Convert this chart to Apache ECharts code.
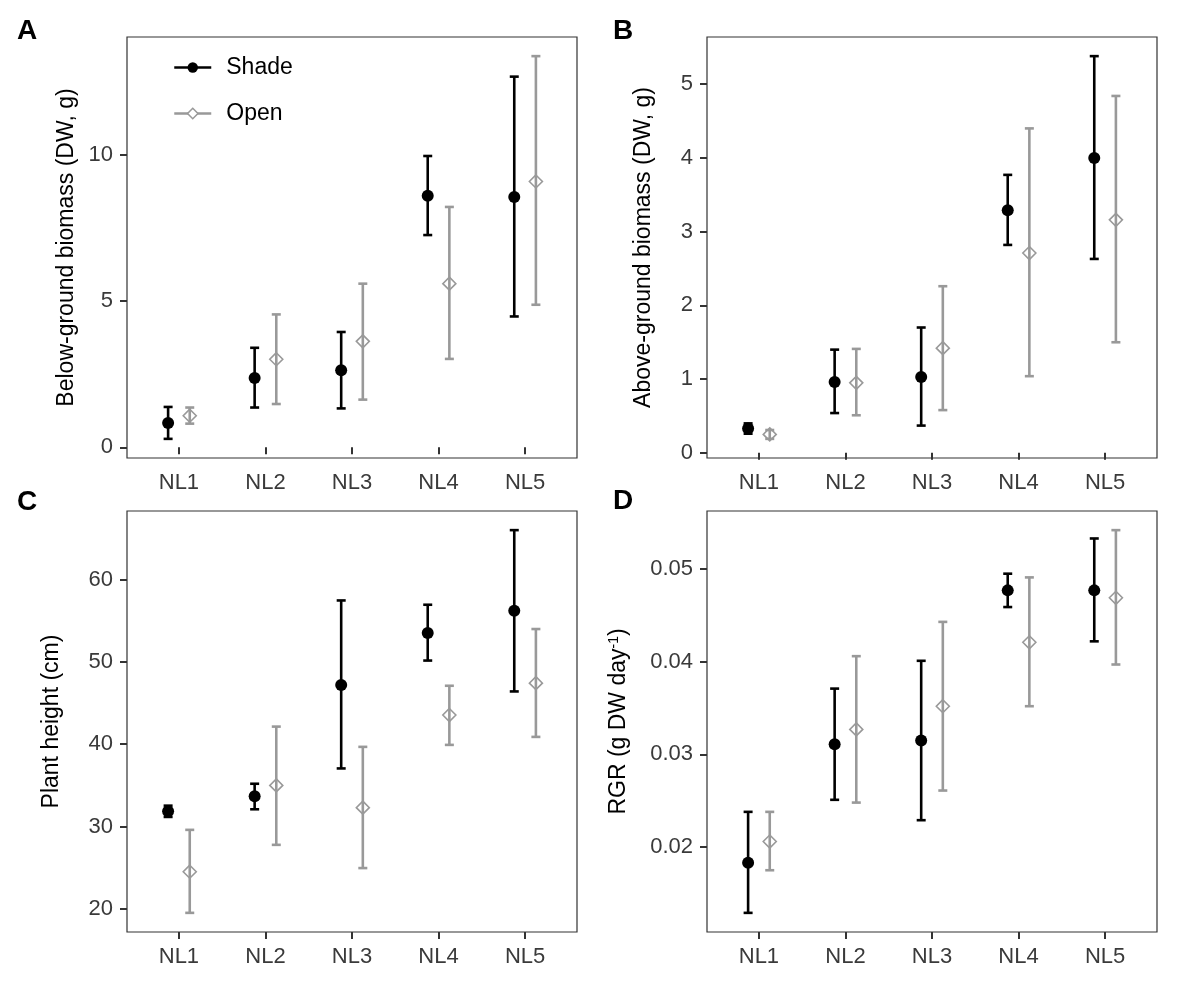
<!DOCTYPE html>
<html>
<head>
<meta charset="utf-8">
<script src="https://cdn.jsdelivr.net/npm/echarts@6/dist/echarts.min.js"></script>
<style>
html,body{margin:0;padding:0;background:#fff;}
#chart{width:1183px;height:987px;}
</style>
</head>
<body>
<div id="chart"></div>
<script>
const categories = ['NL1', 'NL2', 'NL3', 'NL4', 'NL5'];
const seriesNames = ['Shade', 'Open'];

// Panel A: below-ground biomass
const belowShadeMean = [0.83, 2.37, 2.63, 8.59, 8.55];
const belowShadeLow  = [0.29, 1.36, 1.33, 7.25, 4.47];
const belowShadeHigh = [1.38, 3.40, 3.94, 9.95, 12.66];
const belowOpenMean  = [1.08, 3.01, 3.62, 5.59, 9.08];
const belowOpenLow   = [0.81, 1.48, 1.63, 3.02, 4.87];
const belowOpenHigh  = [1.36, 4.54, 5.59, 8.21, 13.36];
const belowTicks = [0, 5, 10];

// Panel B: above-ground biomass
const aboveShadeMean = [0.33, 0.96, 1.03, 3.29, 4.00];
const aboveShadeLow  = [0.26, 0.54, 0.37, 2.82, 2.63];
const aboveShadeHigh = [0.40, 1.40, 1.70, 3.77, 5.38];
const aboveOpenMean  = [0.25, 0.95, 1.42, 2.71, 3.16];
const aboveOpenLow   = [0.19, 0.51, 0.58, 1.04, 1.50];
const aboveOpenHigh  = [0.31, 1.41, 2.26, 4.40, 4.84];
const aboveTicks = [0, 1, 2, 3, 4, 5];

// Panel C: plant height
const heightShadeMean = [31.85, 33.67, 47.18, 53.51, 56.21];
const heightShadeLow  = [31.17, 32.10, 37.06, 50.16, 46.41];
const heightShadeHigh = [32.54, 35.20, 57.46, 56.94, 66.00];
const heightOpenMean  = [24.52, 35.00, 32.30, 43.55, 47.42];
const heightOpenLow   = [19.52, 27.78, 24.96, 39.92, 40.89];
const heightOpenHigh  = [29.60, 42.14, 39.68, 47.10, 53.99];
const heightTicks = [20, 30, 40, 50, 60];

// Panel D: RGR
const rgrShadeMean = [0.0183, 0.0311, 0.0315, 0.0477, 0.0477];
const rgrShadeLow  = [0.0129, 0.0251, 0.0229, 0.0459, 0.0422];
const rgrShadeHigh = [0.0238, 0.0371, 0.0401, 0.0495, 0.0533];
const rgrOpenMean  = [0.0206, 0.0327, 0.0352, 0.0421, 0.0469];
const rgrOpenLow   = [0.0175, 0.0248, 0.0261, 0.0352, 0.0397];
const rgrOpenHigh  = [0.0238, 0.0406, 0.0443, 0.0491, 0.0542];
const rgrTicks = [0.02, 0.03, 0.04, 0.05];

const FONT = 'Liberation Sans, Arial, Helvetica, sans-serif';
const SHADE_COLOR = '#000000';
const OPEN_COLOR = '#999999';
const DODGE = 0.125;

const panels = [
  {letter: 'A', name: 'Below-ground biomass (DW, g)', nameGap: 49, ticks: belowTicks,
   sm: belowShadeMean, sl: belowShadeLow, sh: belowShadeHigh, om: belowOpenMean, ol: belowOpenLow, oh: belowOpenHigh},
  {letter: 'B', name: 'Above-ground biomass (DW, g)', nameGap: 52, ticks: aboveTicks,
   sm: aboveShadeMean, sl: aboveShadeLow, sh: aboveShadeHigh, om: aboveOpenMean, ol: aboveOpenLow, oh: aboveOpenHigh},
  {letter: 'C', name: 'Plant height (cm)', nameGap: 64, ticks: heightTicks,
   sm: heightShadeMean, sl: heightShadeLow, sh: heightShadeHigh, om: heightOpenMean, ol: heightOpenLow, oh: heightOpenHigh},
  {letter: 'D', name: 'RGR (g DW day{sup|-1})', nameGap: 77, ticks: rgrTicks,
   sm: rgrShadeMean, sl: rgrShadeLow, sh: rgrShadeHigh, om: rgrOpenMean, ol: rgrOpenLow, oh: rgrOpenHigh}
];

const gridPos = [
  {left: 127, top: 37}, {left: 707, top: 37},
  {left: 127, top: 511}, {left: 707, top: 511}
];
const letterPos = [
  {left: 17, top: 17}, {left: 613, top: 17},
  {left: 17, top: 488}, {left: 613, top: 487}
];

function errorRender(color) {
  return function (params, api) {
    const x = api.value(0);
    const lo = api.coord([x, api.value(1)]);
    const hi = api.coord([x, api.value(2)]);
    const cap = 4.5;
    const style = {stroke: color, lineWidth: 2.6, fill: null};
    return {
      type: 'group',
      children: [
        {type: 'line', shape: {x1: lo[0], y1: lo[1], x2: hi[0], y2: hi[1]}, style: style},
        {type: 'line', shape: {x1: lo[0] - cap, y1: lo[1], x2: lo[0] + cap, y2: lo[1]}, style: style},
        {type: 'line', shape: {x1: hi[0] - cap, y1: hi[1], x2: hi[0] + cap, y2: hi[1]}, style: style}
      ]
    };
  };
}

const grids = [], xAxes = [], yAxes = [], series = [], graphics = [];

panels.forEach(function (p, i) {
  grids.push({left: gridPos[i].left, top: gridPos[i].top, width: 450, height: 421,
    show: true, borderColor: '#333333', borderWidth: 1.2, backgroundColor: '#ffffff'});
  xAxes.push({
    type: 'value', gridIndex: i, min: 0.4, max: 5.6,
    axisLine: {show: false}, splitLine: {show: false},
    axisTick: {show: true, length: 7, lineStyle: {color: '#333333', width: 2}, customValues: [1, 2, 3, 4, 5]},
    axisLabel: {customValues: [1, 2, 3, 4, 5], formatter: function (v) { return categories[Math.round(v) - 1]; },
      margin: 14, fontSize: 22, color: '#3a3a3a', fontFamily: FONT}
  });
  const lows = p.sl.concat(p.ol), highs = p.sh.concat(p.oh);
  const lo = Math.min.apply(null, lows), hi = Math.max.apply(null, highs);
  const pad = (hi - lo) * 0.05;
  yAxes.push({
    type: 'value', gridIndex: i, min: lo - pad, max: hi + pad,
    name: p.name, nameLocation: 'middle', nameGap: p.nameGap, nameRotate: 90,
    nameTextStyle: {fontSize: 23, color: '#000000', fontFamily: FONT,
      rich: {sup: {fontSize: 14, verticalAlign: 'top', color: '#000000', fontFamily: FONT, lineHeight: 14}}},
    axisLine: {show: false}, splitLine: {show: false},
    axisTick: {show: true, length: 7, lineStyle: {color: '#333333', width: 2}, customValues: p.ticks},
    axisLabel: {customValues: p.ticks, margin: 14, fontSize: 22, color: '#3a3a3a', fontFamily: FONT}
  });
  const shadeErr = categories.map(function (c, k) { return [k + 1 - DODGE, p.sl[k], p.sh[k]]; });
  const openErr = categories.map(function (c, k) { return [k + 1 + DODGE, p.ol[k], p.oh[k]]; });
  series.push({type: 'custom', xAxisIndex: i, yAxisIndex: i, renderItem: errorRender(SHADE_COLOR),
    data: shadeErr, encode: {x: 0, y: [1, 2]}, silent: true, z: 2});
  series.push({type: 'custom', xAxisIndex: i, yAxisIndex: i, renderItem: errorRender(OPEN_COLOR),
    data: openErr, encode: {x: 0, y: [1, 2]}, silent: true, z: 2});
  series.push({name: seriesNames[0], type: 'line', xAxisIndex: i, yAxisIndex: i,
    data: categories.map(function (c, k) { return [k + 1 - DODGE, p.sm[k]]; }),
    symbol: 'circle', symbolSize: 12, showSymbol: true,
    lineStyle: {opacity: 0}, itemStyle: {color: SHADE_COLOR}, z: 3, silent: true});
  series.push({name: seriesNames[1], type: 'line', xAxisIndex: i, yAxisIndex: i,
    data: categories.map(function (c, k) { return [k + 1 + DODGE, p.om[k]]; }),
    symbol: 'diamond', symbolSize: 13, showSymbol: true,
    lineStyle: {opacity: 0}, itemStyle: {color: 'rgba(255,255,255,0)', borderColor: OPEN_COLOR, borderWidth: 1.6}, z: 3, silent: true});
  graphics.push({type: 'text', left: letterPos[i].left, top: letterPos[i].top,
    style: {text: p.letter, font: 'bold 28px ' + FONT, fill: '#000000'}});
});

const option = {
  animation: false,
  backgroundColor: '#ffffff',
  grid: grids,
  xAxis: xAxes,
  yAxis: yAxes,
  series: series,
  graphic: graphics,
  legend: {
    orient: 'vertical', left: 168, top: 51,
    itemWidth: 37, itemHeight: 13, itemGap: 23,
    selectedMode: false,
    textStyle: {fontSize: 23, color: '#000000', fontFamily: FONT, padding: [0, 0, 0, 10]},
    data: [
      {name: 'Shade', lineStyle: {color: SHADE_COLOR, width: 2.5, opacity: 1}, itemStyle: {color: SHADE_COLOR}},
      {name: 'Open', lineStyle: {color: OPEN_COLOR, width: 2.5, opacity: 1},
       itemStyle: {color: '#ffffff', borderColor: OPEN_COLOR, borderWidth: 1.5}}
    ]
  }
};

const chart = echarts.init(document.getElementById('chart'));
chart.setOption(option);
</script>
</body>
</html>
